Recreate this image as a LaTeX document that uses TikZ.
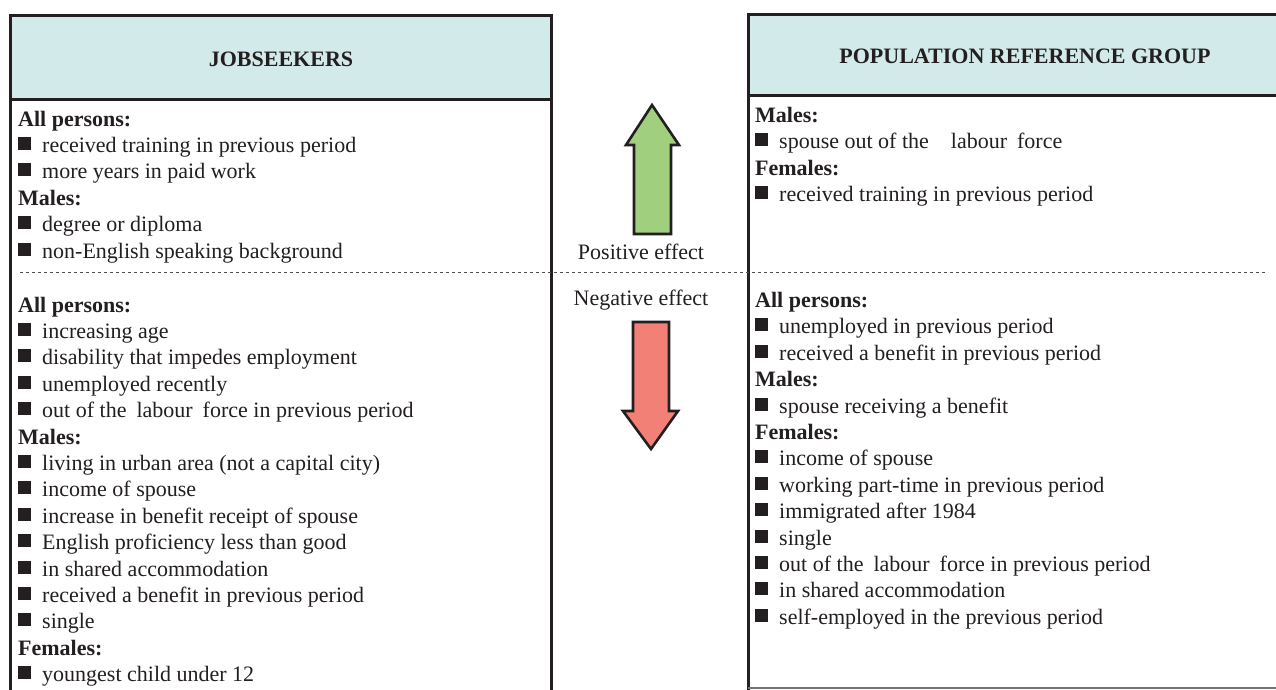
\documentclass[tikz,border=0pt]{standalone}
\usepackage{fontspec}
\setmainfont{Liberation Serif}

\definecolor{headfill}{HTML}{D3EAEA}
\definecolor{upgreen}{HTML}{A0D07E}
\definecolor{downred}{HTML}{F28077}
\definecolor{rim}{HTML}{231F20}

% square bullet in front of each entry
\newcommand{\sqbul}{\raisebox{2.5pt}{\rule{13pt}{13pt}}\hspace{11pt}}

\tikzset{
  panel/.style={draw=rim, line width=3pt},
  headbox/.style={panel, fill=headfill},
  title/.style={inner sep=0pt, text=rim, font=\fontsize{22}{26}\selectfont\bfseries},
  entry/.style={anchor=base west, inner sep=0pt, text=rim,
                font=\fontsize{22}{26}\selectfont},
  group/.style={entry, font=\fontsize{22}{26}\selectfont\bfseries},
  effect/.style={anchor=base, inner sep=0pt, text=rim,
                 font=\fontsize{22}{26}\selectfont},
  divider/.style={draw=black!70, line width=0.9pt, dash pattern=on 3pt off 3pt},
}

\begin{document}
\begin{tikzpicture}[x=1pt,y=-1pt]
  \useasboundingbox (0,0) rectangle (1276,689);
  \clip (0,0) rectangle (1276,689);
  \fill[white] (0,0) rectangle (1276,689);

  % jobseekers panel
  \draw[headbox] (10,15) rectangle (551,99);
  \node[title] (jobs) at (281,59) {JOBSEEKERS};
  \draw[panel] (10,99) -- (10,690);
  \draw[panel] (551,99) -- (551,690);

  % population panel, runs off to the right
  \draw[headbox] (748,14) rectangle (1310,95);
  \node[title] (popref) at (1025,56) {POPULATION REFERENCE GROUP};
  \draw[panel] (748,95) -- (748,690);
  \draw[draw=black!55, line width=1.6pt] (748,688) -- (1280,688);

  \draw[divider] (20,272.5) -- (1268,272.5);

  % left column, upper block
  \foreach \k/\t in {0/All persons:, 3/Males:}
    \node[group] (jp-\k) at (18,{126+26.4*\k}) {\t};
  \foreach \k/\t in {1/received training in previous period,
                     2/more years in paid work,
                     4/degree or diploma,
                     5/non-English speaking background}
    \node[entry] (jp-\k) at (18,{126+26.4*\k}) {\sqbul\t};

  % left column, lower block
  \foreach \k/\t in {0/All persons:, 5/Males:, 13/Females:}
    \node[group] (jn-\k) at (18,{312+26.4*\k}) {\t};
  \foreach \k/\t in {1/increasing age,
                     2/disability that impedes employment,
                     3/unemployed recently,
                     4/out of the\hspace{10pt}labour\hspace{10pt}force in previous period,
                     6/living in urban area (not a capital city),
                     7/income of spouse,
                     8/increase in benefit receipt of spouse,
                     9/English proficiency less than good,
                     10/in shared accommodation,
                     11/received a benefit in previous period,
                     12/single,
                     14/youngest child under 12}
    \node[entry] (jn-\k) at (18,{312+26.4*\k}) {\sqbul\t};

  % right column, upper block
  \foreach \k/\t in {0/Males:, 2/Females:}
    \node[group] (pp-\k) at (755,{122.5+26.4*\k}) {\t};
  \foreach \k/\t in {1/spouse out of the\hspace{22pt}labour\hspace{10pt}force,
                     3/received training in previous period}
    \node[entry] (pp-\k) at (755,{122.5+26.4*\k}) {\sqbul\t};

  % right column, lower block
  \foreach \k/\t in {0/All persons:, 3/Males:, 5/Females:}
    \node[group] (pn-\k) at (755,{307.5+26.4*\k}) {\t};
  \foreach \k/\t in {1/unemployed in previous period,
                     2/received a benefit in previous period,
                     4/spouse receiving a benefit,
                     6/income of spouse,
                     7/working part-time in previous period,
                     8/immigrated after 1984,
                     9/single,
                     10/out of the\hspace{10pt}labour\hspace{10pt}force in previous period,
                     11/in shared accommodation,
                     12/self-employed in the previous period}
    \node[entry] (pn-\k) at (755,{307.5+26.4*\k}) {\sqbul\t};

  % effect arrows
  \filldraw[fill=upgreen, draw=rim, line width=2.6pt, line join=miter]
    (652,105) -- (679,145) -- (671,145) -- (671,234)
    -- (634,234) -- (634,145) -- (626,145) -- cycle;
  \node[effect] (poseff) at (641,259) {Positive effect};
  \node[effect] (negeff) at (641,305) {Negative effect};
  \filldraw[fill=downred, draw=rim, line width=2.6pt, line join=miter]
    (651,449) -- (678,411) -- (669,411) -- (669,322)
    -- (633,322) -- (633,411) -- (623,411) -- cycle;
\end{tikzpicture}
\end{document}
